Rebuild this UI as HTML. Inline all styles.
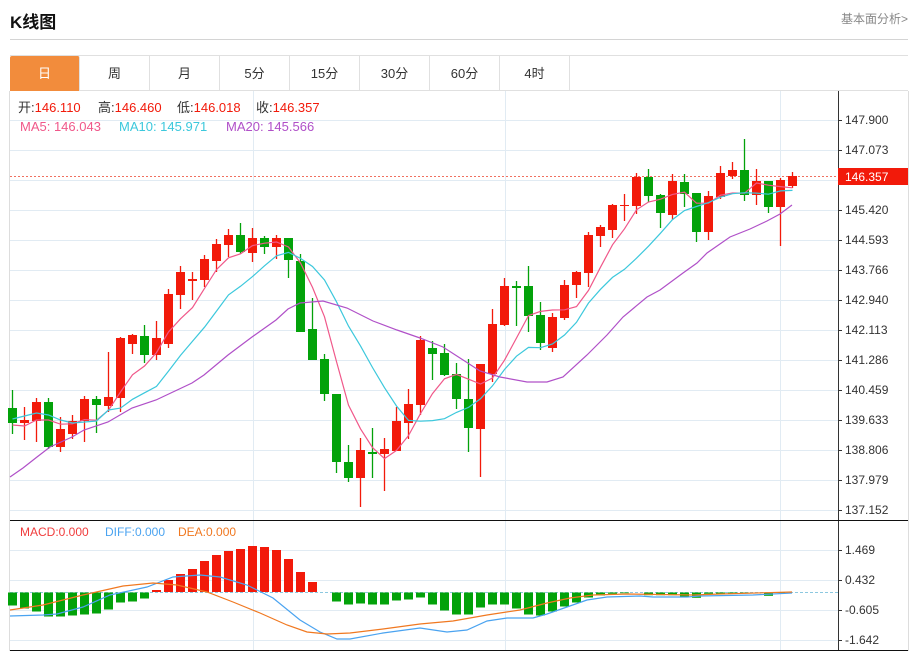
<!DOCTYPE html>
<html><head><meta charset="utf-8">
<style>
body{margin:0;width:916px;height:656px;background:#fff;overflow:hidden;font-family:"Liberation Sans","Noto Sans CJK SC",sans-serif;position:relative}
.t{position:absolute;white-space:nowrap}
.tab{position:absolute;top:56px;height:35px;width:70px;line-height:35px;text-align:center;font-size:13px;color:#333;border-right:1px solid #e0e0e0;box-sizing:border-box}
</style></head><body>
<div class="t" style="left:10px;top:8px;font-size:17px;font-weight:bold;color:#111">K线图</div>
<div class="t" style="left:841px;top:10px;font-size:12px;color:#888">基本面分析&gt;</div>
<div style="position:absolute;left:10px;top:39px;width:898px;height:1px;background:#d4d4d4"></div>
<div style="position:absolute;left:10px;top:55px;width:898px;height:36px;border-top:1px solid #e0e0e0;border-bottom:1px solid #e0e0e0;box-sizing:border-box"></div>
<div class="tab" style="left:10px;background:#f28c3c;color:#fff;border-radius:2px 2px 0 0">日</div>
<div class="tab" style="left:80px">周</div>
<div class="tab" style="left:150px">月</div>
<div class="tab" style="left:220px">5分</div>
<div class="tab" style="left:290px">15分</div>
<div class="tab" style="left:360px">30分</div>
<div class="tab" style="left:430px">60分</div>
<div class="tab" style="left:500px">4时</div>
<svg id="s" width="916" height="656" style="position:absolute;left:0;top:0" xmlns="http://www.w3.org/2000/svg">
<g id="grid"></g><g id="cd"></g><g id="ln"></g>
<g font-size="12" fill="#333" font-family="Liberation Sans,sans-serif">
<text x="845" y="124">147.900</text><text x="845" y="154">147.073</text>
<text x="845" y="214">145.420</text><text x="845" y="244">144.593</text><text x="845" y="274">143.766</text>
<text x="845" y="304">142.940</text><text x="845" y="334">142.113</text><text x="845" y="364">141.286</text>
<text x="845" y="394">140.459</text><text x="845" y="424">139.633</text><text x="845" y="454">138.806</text>
<text x="845" y="484">137.979</text><text x="845" y="514">137.152</text>
<text x="845" y="554">1.469</text><text x="845" y="584">0.432</text><text x="845" y="614">-0.605</text><text x="845" y="644">-1.642</text>
</g>
<rect x="838" y="168" width="70" height="17" fill="#f21a0a"/>
<text x="845" y="181" font-size="12" fill="#fff">146.357</text>
<g font-size="13">
<text x="18" y="112" fill="#333">开:<tspan fill="#f21a0a">146.110</tspan></text>
<text x="98" y="112" fill="#333">高:<tspan fill="#f21a0a">146.460</tspan></text>
<text x="177" y="112" fill="#333">低:<tspan fill="#f21a0a">146.018</tspan></text>
<text x="256" y="112" fill="#333">收:<tspan fill="#f21a0a">146.357</tspan></text>
<text x="20" y="131" fill="#f0588a">MA5: 146.043</text>
<text x="119" y="131" fill="#3cc8dc">MA10: 145.971</text>
<text x="226" y="131" fill="#b050c8">MA20: 145.566</text>
</g>
<g font-size="12">
<text x="20" y="536" fill="#f03c3c">MACD:0.000</text>
<text x="105" y="536" fill="#4aa3f0">DIFF:0.000</text>
<text x="178" y="536" fill="#f07820">DEA:0.000</text>
</g>
</svg>
<script>
var NS="http://www.w3.org/2000/svg";
function el(p,t,a){var e=document.createElementNS(NS,t);for(var k in a)e.setAttribute(k,a[k]);document.getElementById(p).appendChild(e);return e;}
// grid
for(var k=0;k<14;k++){var y=120+30*k;el('grid','line',{x1:10,x2:838,y1:y+0.5,y2:y+0.5,stroke:'#e1ebf3'});el('grid','line',{x1:838,x2:842,y1:y+0.5,y2:y+0.5,stroke:'#333'});}
[550,580,610,640].forEach(function(y){el('grid','line',{x1:10,x2:838,y1:y+0.5,y2:y+0.5,stroke:'#e1ebf3'});el('grid','line',{x1:838,x2:842,y1:y+0.5,y2:y+0.5,stroke:'#333'});});
[253,505,780].forEach(function(x){el('grid','line',{x1:x+0.5,x2:x+0.5,y1:91,y2:651,stroke:'#e1ebf3'});});
el('grid','line',{x1:9.5,x2:9.5,y1:91,y2:651,stroke:'#ddd'});
el('grid','line',{x1:908.5,x2:908.5,y1:91,y2:651,stroke:'#ddd'});
el('grid','line',{x1:838.5,x2:838.5,y1:91,y2:651,stroke:'#333'});
el('grid','line',{x1:10,x2:908,y1:520.5,y2:520.5,stroke:'#111'});
el('grid','line',{x1:10,x2:908,y1:650.5,y2:650.5,stroke:'#111'});
el('grid','line',{x1:10,x2:838,y1:176.5,y2:176.5,stroke:'#f07060','stroke-dasharray':'2,2'});
el('grid','line',{x1:10,x2:838,y1:592.5,y2:592.5,stroke:'#8cc8e0','stroke-dasharray':'3,2'});
// candles: [g?, top, bottom, wickTop, wickBottom]
var C=[[1,408,423,390,434],[0,420,423,407,440],[0,402,421,398,442],[1,402,447,398,449],[0,429,447,417,452],[0,421,434,415,439],[0,399,421,396,442],[1,399,405,396,433],[0,397,406,352,412],[0,338,398,337,412],
[0,335,344,334,354],[1,336,355,325,363],[0,338,355,321,360],[0,294,344,289,348],[0,272,295,266,309],[0,279,281,272,300],[0,259,280,255,287],[0,244,261,239,272],[0,235,245,229,257],[1,235,252,223,254],
[0,238,253,228,262],[1,238,247,236,254],[0,238,247,235,259],[1,238,260,238,278],[1,261,332,254,332],[1,329,360,298,360],[1,359,394,354,401],[1,394,462,394,473],[1,462,478,445,482],[0,450,478,438,507],
[1,452,454,428,478],[0,449,454,438,491],[0,421,451,407,451],[0,404,423,389,439],[0,340,405,336,415],[1,348,354,341,380],[1,353,375,344,376],[1,374,399,363,409],[1,399,428,359,452],[0,364,429,364,477],
[0,324,374,309,382],[0,286,325,278,326],[1,286,288,281,326],[1,286,316,266,332],[1,315,343,302,350],[0,317,348,313,352],[0,285,318,280,320],[0,272,285,271,298],[0,235,273,232,287],[0,227,236,225,247],
[0,205,230,204,238],[0,205,206,194,221],[0,177,206,173,214],[1,177,196,169,202],[1,195,213,194,228],[0,181,215,174,220],[1,182,194,174,207],[1,193,232,193,242],[0,196,232,191,240],[0,173,197,166,199],
[0,170,176,162,179],[1,170,195,139,201],[0,181,195,169,205],[1,181,207,181,213],[0,180,207,178,246],[0,176,186,172,188]];
var R='#f21a0a',G='#03a20a',close=[];
C.forEach(function(c,i){var x=12.5+12*i,col=c[0]?G:R;
 el('cd','line',{x1:x,x2:x,y1:c[3],y2:c[4],stroke:col,'stroke-width':1.3});
 el('cd','rect',{x:x-4.5,y:c[1],width:9,height:Math.max(1,c[2]-c[1]),fill:col});
 close.push(c[0]?c[2]:c[1]);});
function ma(n,pre){var pts=[];for(var i=0;i<close.length;i++){var v;if(i<n-1){v=pre[i];}else{var s=0;for(var j=i-n+1;j<=i;j++)s+=close[j];v=s/n;}if(v!=null)pts.push((12.5+12*i)+','+v.toFixed(1));}return pts.join(' ');}
el('ln','polyline',{points:ma(5,[425,426,420,420]),fill:'none',stroke:'#f0588a','stroke-width':1.2});
el('ln','polyline',{points:ma(10,[419,416,413,415,420,423,422,421,410]),fill:'none',stroke:'#3cc8dc','stroke-width':1.2});
var m20=[[10,477],[23,468],[37,457],[50,447],[72,437],[84,430],[108,422],[132,408],[156,400],[192,383],[204,375],[228,355],[252,337],[276,320],[288,309],[300,303],[323,301],[347,308],[373,321],[397,330],[420,338],[443,347],[460,358],[480,371],[500,377],[527,382],[547,382],[563,377],[587,355],[607,335],[623,317],[647,297],[660,290],[683,273],[697,263],[707,253],[730,237],[750,229],[767,221],[780,214],[792,205]];
el('ln','polyline',{points:m20.map(function(p){return p.join(',')}).join(' '),fill:'none',stroke:'#b050c8','stroke-width':1.2});
// MACD bars (positive = up)
var M=[-13,-16,-19,-24,-24,-23,-22,-21,-17,-10,-9,-6,2,12,18,23,31,37,41,43,46,45,42,33,20,10,0,-9,-12,-11,-12,-12,-8,-7,-5,-12,-18,-22,-22,-15,-12,-12,-16,-22,-23,-19,-14,-10,-5,-3,-1.3,-0.7,0,-2.7,-2.7,-2.7,-4.3,-5.3,-1.3,-1,-1,-1,-1,-3.3,-0.5,0];
M.forEach(function(v,i){if(!v)return;var x=12.5+12*i;el('cd','rect',{x:x-4.5,y:v>0?592-v:592.5,width:9,height:Math.abs(v),fill:v>0?R:G});});
var D=[[10,616],[43,615],[57,614],[83,607],[110,595],[147,587],[173,577],[200,575],[220,577],[247,585],[273,598],[300,620],[320,632],[337,639],[350,639],[383,633],[420,628],[447,632],[467,630],[487,621],[507,618],[533,618],[547,614],[567,607],[587,600],[607,597],[640,596],[653,597],[687,597],[700,596],[753,595],[792,593]];
var E=[[10,610],[43,605],[83,595],[123,586],[153,583],[177,585],[207,592],[233,602],[260,613],[287,625],[307,632],[327,634],[350,633],[383,629],[420,624],[453,621],[487,615],[520,610],[547,603],[570,598],[593,595],[627,594],[693,595],[720,594],[792,592]];
el('ln','polyline',{points:D.map(function(p){return p.join(',')}).join(' '),fill:'none',stroke:'#4aa3f0','stroke-width':1.2});
el('ln','polyline',{points:E.map(function(p){return p.join(',')}).join(' '),fill:'none',stroke:'#f07820','stroke-width':1.2});
</script>
</body></html>
